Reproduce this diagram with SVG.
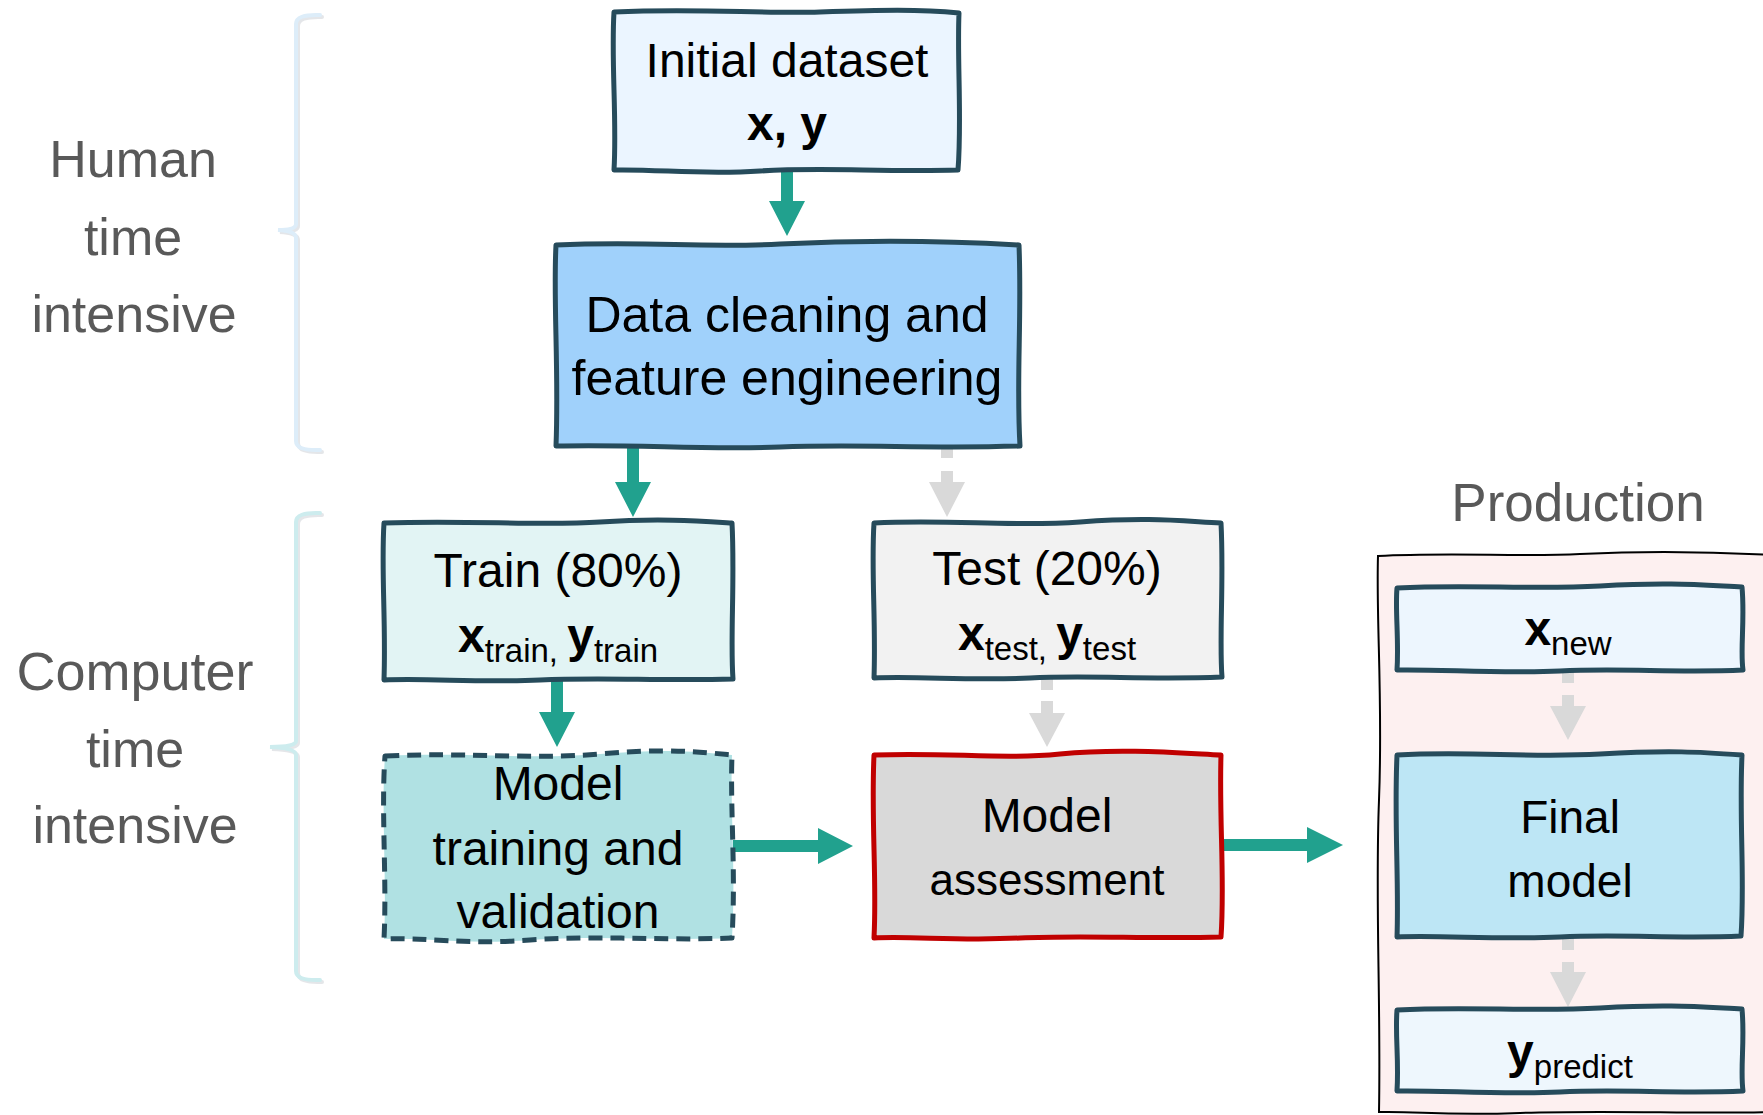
<svg xmlns="http://www.w3.org/2000/svg" width="1763" height="1115" viewBox="0 0 1763 1115">
<style>
text{font-family:"Liberation Sans",Arial,sans-serif;fill:#000;text-anchor:middle}
.lbl{font-size:52px;fill:#595959}
.t{font-size:48px}
.b{font-weight:bold;font-size:48px}
.s{font-size:33px}
.box{stroke:#264b5b;stroke-width:5;stroke-linejoin:round}
.teal{fill:#21a18e}
.gray{fill:#d9d9d9}
.br{fill:none;stroke-width:4;stroke-linecap:round}
</style>
<rect width="1763" height="1115" fill="#fff"/>

<g id="brackets">
  <path class="br" stroke="#c9ced3" opacity="0.5" transform="translate(2,2)" d="M320,15 Q296,14 296,24 L296,224 Q296,230 278,230 Q296,231 296,238 L296,441 Q296,451 320,450"/>
  <path class="br" stroke="#ddedf9" d="M320,15 Q296,14 296,24 L296,224 Q296,230 278,230 Q296,231 296,238 L296,441 Q296,451 320,450"/>
  <path class="br" stroke="#c9ced3" opacity="0.5" transform="translate(2,2)" d="M320,513 Q296,512 296,522 L296,741 Q296,747 270,747 Q296,748 296,755 L296,971 Q296,981 320,980"/>
  <path class="br" stroke="#cdecee" d="M320,513 Q296,512 296,522 L296,741 Q296,747 270,747 Q296,748 296,755 L296,971 Q296,981 320,980"/>
</g>

<g id="label-human">
  <text class="lbl" x="133" y="177">Human</text>
  <text class="lbl" x="133" y="255">time</text>
  <text class="lbl" x="134" y="332">intensive</text>
</g>
<g id="label-computer">
  <text class="lbl" x="135" y="690" style="font-size:54px">Computer</text>
  <text class="lbl" x="135" y="767">time</text>
  <text class="lbl" x="135" y="843">intensive</text>
</g>

<g id="production">
  <path fill="#fdf0f0" stroke="#000" stroke-width="2" d="M1378,556 C1450,552 1520,557 1580,554 S1700,551 1770,555 L1770,1112 C1700,1114 1600,1110 1520,1113 S1420,1111 1379,1112 C1381,1000 1375,900 1379,800 S1376,620 1378,556 Z"/>
  <text class="lbl" x="1578" y="521" style="font-size:53px">Production</text>
</g>

<g id="connectors">
  <path class="teal" d="M781,171 H793 V201 H805 L787,236 L769,201 H781 Z"/>
  <path class="teal" d="M627,447 H639 V482 H651 L633,517 L615,482 H627 Z"/>
  <path class="gray" d="M941,447 H953 V458 H941 Z M941,471 H953 V482 H965 L947,517 L929,482 H941 Z"/>
  <path class="teal" d="M551,680 H563 V712 H575 L557,747 L539,712 H551 Z"/>
  <path class="gray" d="M1041,678 H1053 V690 H1041 Z M1041,701 H1053 V713 H1065 L1047,747 L1029,713 H1041 Z"/>
  <path class="teal" d="M733,840 H818 V828 L853,846 L818,864 V852 H733 Z"/>
  <path class="teal" d="M1222,839 H1307 V827 L1343,845 L1307,863 V851 H1222 Z"/>
  <path class="gray" d="M1562,671 H1574 V683 H1562 Z M1562,695 H1574 V706 H1586 L1568,740 L1550,706 H1562 Z"/>
  <path class="gray" d="M1562,937 H1574 V950 H1562 Z M1562,962 H1574 V972 H1586 L1568,1007 L1550,972 H1562 Z"/>
</g>

<g id="initial-dataset">
  <path class="box" fill="#ebf5ff" d="M614,12 C700,8 760,14 820,12 S920,9 959,13 C957,60 962,120 958,170 C880,172 820,167 760,171 S660,169 614,170 C617,120 611,60 614,12 Z"/>
  <text class="t" x="787" y="77">Initial dataset</text>
  <text class="b" x="787" y="140">x, y</text>
</g>

<g id="data-cleaning">
  <path class="box" fill="#a0d1fb" d="M556,245 C650,241 700,248 780,244 S950,241 1019,245 C1022,320 1016,380 1020,446 C930,449 860,444 780,447 S640,444 556,446 C559,370 553,300 556,245 Z"/>
  <text class="t" x="787" y="332" style="font-size:50px">Data cleaning and</text>
  <text class="t" x="787" y="395" style="font-size:50px">feature engineering</text>
</g>

<g id="train">
  <path class="box" fill="#e2f4f4" d="M384,523 C470,520 540,526 600,522 S700,521 732,523 C735,580 730,640 733,679 C660,681 600,677 540,680 S430,678 384,680 C386,620 381,570 384,523 Z"/>
  <text class="t" x="558" y="587">Train (80%)</text>
  <text x="558" y="652"><tspan class="b">x</tspan><tspan class="s" dy="10">train, </tspan><tspan class="b" dy="-10">y</tspan><tspan class="s" dy="10">train</tspan></text>
</g>

<g id="model-training">
  <path class="box" fill="#b0e1e3" stroke-dasharray="14 8" d="M385,756 C470,752 530,760 600,754 S700,752 732,755 C730,810 736,870 732,938 C660,941 600,935 530,940 S430,937 384,939 C387,880 381,810 385,756 Z"/>
  <text class="t" x="558" y="800">Model</text>
  <text class="t" x="558" y="865">training and</text>
  <text class="t" x="558" y="928">validation</text>
</g>

<g id="test">
  <path class="box" fill="#f2f2f2" d="M874,523 C950,519 1010,527 1080,522 S1180,521 1221,523 C1224,580 1219,640 1222,677 C1150,680 1090,675 1030,678 S920,676 874,678 C876,620 871,570 874,523 Z"/>
  <text class="t" x="1047" y="585">Test (20%)</text>
  <text x="1047" y="650"><tspan class="b">x</tspan><tspan class="s" dy="10">test, </tspan><tspan class="b" dy="-10">y</tspan><tspan class="s" dy="10">test</tspan></text>
</g>

<g id="model-assessment">
  <path class="box" fill="#d9d9d9" style="stroke:#c00000" d="M874,755 C950,752 1000,760 1060,754 S1180,753 1221,755 C1219,820 1225,880 1221,937 C1150,939 1080,935 1020,938 S910,936 874,938 C877,880 871,820 874,755 Z"/>
  <text class="t" x="1047" y="832">Model</text>
  <text class="t" x="1047" y="895" style="font-size:44px">assessment</text>
</g>

<g id="x-new">
  <path class="box" fill="#edf6fe" d="M1397,588 C1470,584 1530,590 1600,586 S1700,585 1742,587 C1745,620 1740,650 1743,670 C1680,673 1620,668 1560,671 S1440,669 1397,670 C1399,640 1395,610 1397,588 Z"/>
  <text x="1568" y="645"><tspan class="b">x</tspan><tspan class="s" dy="10">new</tspan></text>
</g>

<g id="final-model">
  <path class="box" fill="#bde6f5" d="M1397,755 C1470,751 1530,758 1600,754 S1700,752 1742,755 C1739,820 1745,880 1741,936 C1680,939 1620,934 1560,937 S1440,935 1397,937 C1399,880 1394,820 1397,755 Z"/>
  <text class="t" x="1570" y="833" style="font-size:46px">Final</text>
  <text class="t" x="1570" y="897" style="font-size:46px">model</text>
</g>

<g id="y-predict">
  <path class="box" fill="#eef7fd" d="M1397,1010 C1470,1006 1530,1012 1600,1008 S1700,1007 1742,1009 C1745,1040 1740,1070 1743,1091 C1680,1094 1620,1089 1560,1092 S1440,1090 1397,1091 C1399,1060 1395,1035 1397,1010 Z"/>
  <text x="1570" y="1068"><tspan class="b">y</tspan><tspan class="s" dy="10">predict</tspan></text>
</g>
</svg>
